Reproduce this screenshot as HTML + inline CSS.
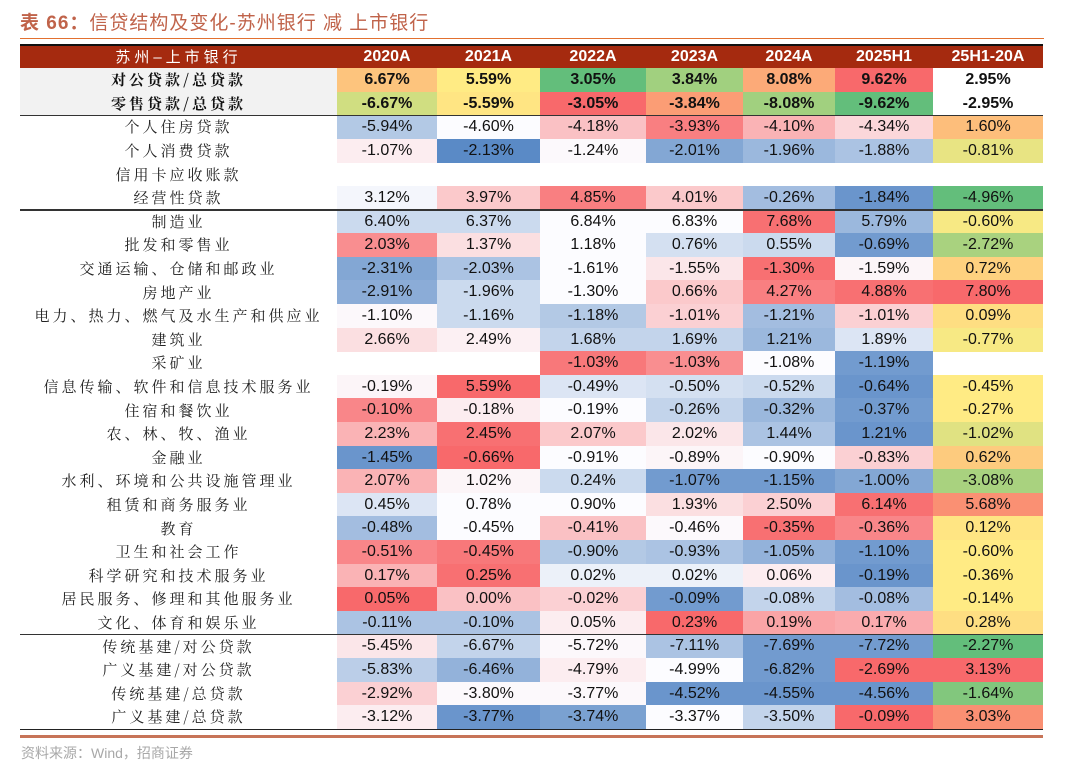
<!DOCTYPE html>
<html><head><meta charset="utf-8">
<style>
body{margin:0;width:1080px;height:779px;background:#fff;position:relative;overflow:hidden;font-family:"Liberation Sans","Noto Sans CJK SC",sans-serif;}
.abs{position:absolute;}
.cell{position:absolute;display:flex;align-items:center;justify-content:center;font-size:16px;color:#111;}
.lab{position:absolute;display:flex;align-items:center;justify-content:center;font-family:"Noto Serif CJK SC","Liberation Serif",serif;font-size:15px;letter-spacing:3px;color:#222;}
</style></head><body>
<div class="abs" style="left:20px;top:8px;font-size:19px;color:#C0634A;font-family:'Liberation Sans','Noto Sans CJK SC',sans-serif;letter-spacing:1px;"><b>表 66：</b>信贷结构及变化-苏州银行 减 上市银行</div>
<div class="abs" style="left:20px;top:38px;width:1024px;height:1px;background:#E2702F;"></div>
<div id="tbl"></div>
<div class="abs" style="left:21px;top:743px;font-size:14px;color:#a8a8a8;">资料来源：Wind，招商证券</div>
<script>
const headers=["2020A","2021A","2022A","2023A","2024A","2025H1","25H1-20A"];
const labels=["对公贷款/总贷款","零售贷款/总贷款","个人住房贷款","个人消费贷款","信用卡应收账款","经营性贷款","制造业","批发和零售业","交通运输、仓储和邮政业","房地产业","电力、热力、燃气及水生产和供应业","建筑业","采矿业","信息传输、软件和信息技术服务业","住宿和餐饮业","农、林、牧、渔业","金融业","水利、环境和公共设施管理业","租赁和商务服务业","教育","卫生和社会工作","科学研究和技术服务业","居民服务、修理和其他服务业","文化、体育和娱乐业","传统基建/对公贷款","广义基建/对公贷款","传统基建/总贷款","广义基建/总贷款"];
const N=null;
const values=[
[6.67,5.59,3.05,3.84,8.08,9.62,2.95],
[-6.67,-5.59,-3.05,-3.84,-8.08,-9.62,-2.95],
[-5.94,-4.60,-4.18,-3.93,-4.10,-4.34,1.60],
[-1.07,-2.13,-1.24,-2.01,-1.96,-1.88,-0.81],
[N,N,N,N,N,N,N],
[3.12,3.97,4.85,4.01,-0.26,-1.84,-4.96],
[6.40,6.37,6.84,6.83,7.68,5.79,-0.60],
[2.03,1.37,1.18,0.76,0.55,-0.69,-2.72],
[-2.31,-2.03,-1.61,-1.55,-1.30,-1.59,0.72],
[-2.91,-1.96,-1.30,0.66,4.27,4.88,7.80],
[-1.10,-1.16,-1.18,-1.01,-1.21,-1.01,0.09],
[2.66,2.49,1.68,1.69,1.21,1.89,-0.77],
[N,N,-1.03,-1.03,-1.08,-1.19,N],
[-0.19,5.59,-0.49,-0.50,-0.52,-0.64,-0.45],
[-0.10,-0.18,-0.19,-0.26,-0.32,-0.37,-0.27],
[2.23,2.45,2.07,2.02,1.44,1.21,-1.02],
[-1.45,-0.66,-0.91,-0.89,-0.90,-0.83,0.62],
[2.07,1.02,0.24,-1.07,-1.15,-1.00,-3.08],
[0.45,0.78,0.90,1.93,2.50,6.14,5.68],
[-0.48,-0.45,-0.41,-0.46,-0.35,-0.36,0.12],
[-0.51,-0.45,-0.90,-0.93,-1.05,-1.10,-0.60],
[0.17,0.25,0.02,0.02,0.06,-0.19,-0.36],
[0.05,0.00,-0.02,-0.09,-0.08,-0.08,-0.14],
[-0.11,-0.10,0.05,0.23,0.19,0.17,0.28],
[-5.45,-6.67,-5.72,-7.11,-7.69,-7.72,-2.27],
[-5.83,-6.46,-4.79,-4.99,-6.82,-2.69,3.13],
[-2.92,-3.80,-3.77,-4.52,-4.55,-4.56,-1.64],
[-3.12,-3.77,-3.74,-3.37,-3.50,-0.09,3.03]];
// conditional-format tone (style, not data): -1 blue/green .. 0 white/yellow .. 1 red
const cellTone=[
[0.3,0.0,-1,-0.6,0.5,1,N],
[-0.3,0.05,1,0.6,-0.6,-1,N],
[-0.45,0,0.4,0.85,0.5,0.25,0.35],
[0.1,-1,0.02,-0.75,-0.6,-0.5,-0.15],
[N,N,N,N,N,N,N],
[-0.05,0.35,0.85,0.35,-0.55,-0.9,-1],
[-0.3,-0.3,0,0,0.95,-0.6,-0.05],
[0.75,0.2,0,-0.25,-0.3,-0.85,-0.55],
[-0.75,-0.5,0,0.15,0.95,0.05,0.2],
[-0.7,-0.3,0,0.35,0.85,0.95,1],
[0.03,-0.3,-0.45,0.3,-0.55,0.3,0.1],
[0.2,0.08,-0.35,-0.35,-0.6,-0.2,-0.05],
[N,N,0.9,0.75,0,-0.85,N],
[0.05,1,-0.2,-0.25,-0.3,-0.9,0],
[0.8,0.1,0,-0.35,-0.6,-0.85,0],
[0.5,0.95,0.35,0.15,-0.5,-0.9,-0.2],
[-0.9,1,0,0.05,0,0.3,0.25],
[0.5,0.05,-0.3,-0.85,-0.85,-0.75,-0.55],
[-0.2,0,0,0.2,0.3,0.95,0.7],
[-0.55,0,0.4,0.02,0.95,0.8,0.05],
[0.8,0.9,-0.45,-0.5,-0.65,-0.85,0],
[0.5,0.95,-0.1,-0.1,0.1,-0.9,0],
[1,0.4,0.3,-0.85,-0.35,-0.55,0],
[-0.5,-0.5,0.1,1,0.6,0.55,0.1],
[0.15,-0.35,0.03,-0.5,-0.85,-0.85,-1],
[-0.4,-0.65,0.1,0,-0.85,1,1],
[0.3,0.02,0.03,-0.9,-0.9,-0.9,-0.8],
[0.1,-0.9,-0.8,0,-0.35,1,0.7]];
const colX=[337,437,540,646,743,835,933,1043];
const L=20,R=1043,T0=68,RH=23.6;
const tbl=document.getElementById('tbl');
function mk(cls,x,y,w,h,txt,bg){const d=document.createElement('div');d.className=cls;d.style.left=x+'px';d.style.top=y+'px';d.style.width=w+'px';d.style.height=h+'px';if(bg)d.style.background=bg;if(txt!=null)d.textContent=txt;tbl.appendChild(d);return d;}
function lerp(a,b,t){return a.map((v,i)=>Math.round(v+(b[i]-v)*t));}
const RED=[248,105,107],WHITE=[252,252,255],BLUE=[90,138,198],GREEN=[99,190,123],YEL=[255,235,132];
function tone(t,lo,mid,hi){if(t==null)return '#fff';const c=t<0?lerp(mid,lo,-t):lerp(mid,hi,t);return 'rgb('+c.join(',')+')';}
let h=mk('abs',L,44,R-L,24,null,'#A52A0F');h.style.borderTop='2px solid #111';h.style.boxSizing='border-box';

let hl=mk('cell',L,45,colX[0]-L,23,'苏州–上市银行');hl.style.color='#fff';hl.style.letterSpacing='4px';hl.style.fontSize='15px';

headers.forEach((t,j)=>{const d=mk('cell',colX[j],45,colX[j+1]-colX[j],23,t);d.style.color='#fff';d.style.fontWeight='bold';
});
labels.forEach((lab,i)=>{const y=T0+i*RH;
 if(i<2){const bg=mk('abs',L,y,colX[0]-L,RH,null,'#F2F2F2');}
 const l=mk('lab',L,y,colX[0]-L,RH,lab);if(i<2){l.style.fontWeight='bold';l.style.color='#111';}
 
 values[i].forEach((v,j)=>{if(v==null)return;const t=cellTone[i][j];
  const col=(i<2||j==6)?tone(t,GREEN,YEL,RED):tone(t,BLUE,WHITE,RED);
  const c=mk('cell',colX[j],y,colX[j+1]-colX[j],RH+0.5,v.toFixed(2)+'%',col);
  if(i<2)c.style.fontWeight='bold';
  });
});
function line(y,hgt,color,name){const d=mk('abs',L,y,R-L,hgt,null,color);}
line(T0+2*RH-0.5,1.5,'#333','separator-line');
line(T0+6*RH-0.5,1.5,'#333','separator-line');
line(T0+24*RH-0.5,1.5,'#333','separator-line');
line(T0+28*RH,1.5,'#222','table-bottom-line');
line(735,3,'#C77458','footer-rule');
</script>
</body></html>
